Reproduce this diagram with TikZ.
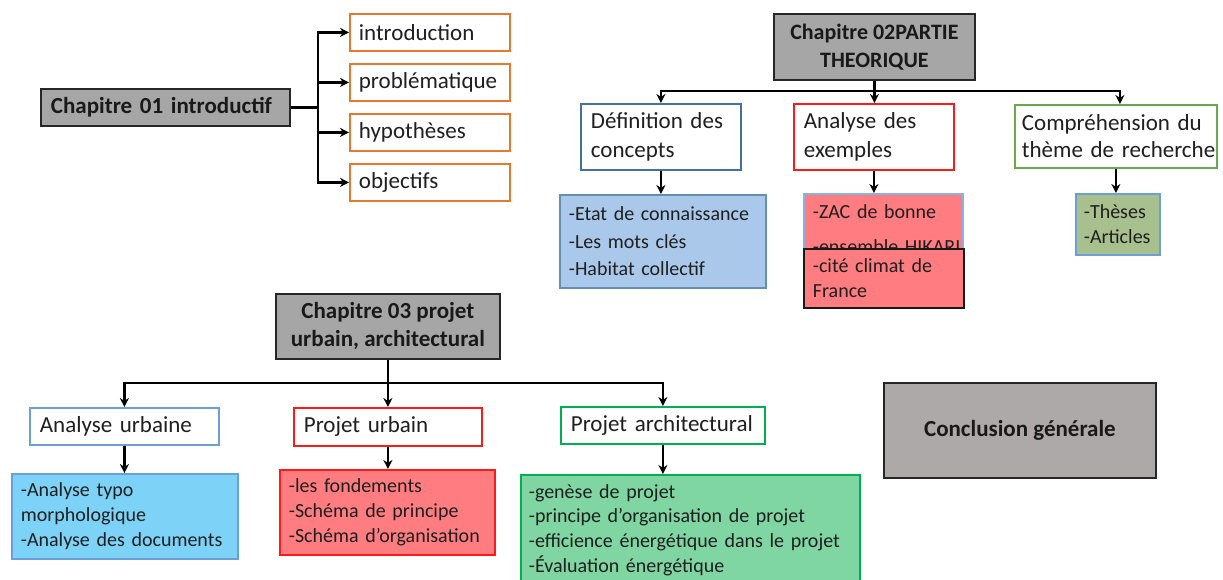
\documentclass[tikz,border=0pt]{standalone}
\usepackage{fontspec}
\setmainfont{Carlito}
\usetikzlibrary{arrows.meta}
\definecolor{grayA}{HTML}{A6A6A6}
\definecolor{grayB}{HTML}{ADA9A9}
\definecolor{orangeC}{HTML}{E8782F}
\definecolor{blueD}{HTML}{41719C}
\definecolor{redC}{HTML}{FF1A1A}
\definecolor{greenC}{HTML}{6AA84F}
\definecolor{blueF}{HTML}{A9C8EA}
\definecolor{blueL}{HTML}{6A9FD8}
\definecolor{redF}{HTML}{FF7C80}
\definecolor{oliveF}{HTML}{A8BF8E}
\definecolor{cyanF}{HTML}{7DD3F7}
\definecolor{greenB}{HTML}{00B050}
\definecolor{greenF}{HTML}{7FD6A2}
\newcommand\fsz[2]{\fontsize{#1}{#2}\selectfont}
\hyphenpenalty=10000
\exhyphenpenalty=10000
\tikzset{
  bx/.style={draw, line width=1.8pt, anchor=north west, inner ysep=0pt, align=left, text=black!88},
  chap/.style={bx, fill=grayA, draw=black!85, align=center, text=black!90},
  conn/.style={line width=2.6pt, black},
  arr/.style={conn, -{Stealth[length=9pt,width=9pt]}},
}
\begin{document}
\begin{tikzpicture}[x=1pt,y=-1pt]
\useasboundingbox[fill=white] (0,0) rectangle (1223,579);

% ---- Chapitre 01 ----
\node[chap, align=left, minimum width=249pt, minimum height=37pt, inner xsep=10pt, text width=229pt, font=\fsz{23}{28}\bfseries] (c1) at (40,88) {Chapitre 01 introductif};
\node[bx, draw=orangeC, minimum width=160pt, minimum height=37pt, inner xsep=9pt, text width=142pt, font=\fsz{23}{28}] (o1) at (349,13) {introduction};
\node[bx, draw=orangeC, minimum width=160pt, minimum height=37pt, inner xsep=9pt, text width=142pt, font=\fsz{23}{28}] (o2) at (349,63) {\mbox{problématique}};
\node[bx, draw=orangeC, minimum width=160pt, minimum height=37pt, inner xsep=9pt, text width=142pt, font=\fsz{23}{28}] (o3) at (349,113) {hypothèses};
\node[bx, draw=orangeC, minimum width=160pt, minimum height=37pt, inner xsep=9pt, text width=142pt, font=\fsz{23}{28}] (o4) at (349,163) {objectifs};
\coordinate (j1) at (c1.east -| 318,0);
\draw[conn] (c1.east) -- (j1);
\draw[arr] (j1) |- (o1.west);
\draw[arr] (j1) |- (o2.west);
\draw[arr] (j1) |- (o3.west);
\draw[arr] (j1) |- (o4.west);

% ---- Chapitre 02 ----
\node[chap, minimum width=201pt, minimum height=66pt, font=\fsz{22}{28}\bfseries] (c2) at (773,13) {Chapitre 02PARTIE\\THEORIQUE};
\node[bx, draw=blueD, minimum width=160pt, minimum height=66pt, inner xsep=10pt, text width=140pt, font=\fsz{23}{29}] (def) at (580,103) {\mbox{Définition des}\\concepts};
\node[bx, draw=redC, minimum width=160pt, minimum height=66pt, inner xsep=10pt, text width=140pt, font=\fsz{23}{29}] (ana) at (793,103) {Analyse des\\exemples};
\node[bx, draw=greenC, minimum width=202pt, minimum height=63pt, inner xsep=7pt, text width=188pt, font=\fsz{23}{27}] (comp) at (1014,104) {\mbox{Compréhension du}\\\mbox{thème de recherche}};
\node[bx, fill=blueF, draw=blueD!80, minimum width=206pt, minimum height=93pt, inner xsep=9pt, text width=188pt, font=\fsz{20}{27.5}] (defc) at (559,194) {-Etat de connaissance\\-Les mots clés\\-Habitat collectif};
\node[bx, fill=redF, draw=blueL!80, minimum width=159pt, minimum height=70pt, inner xsep=9pt, text width=141pt, font=\fsz{20}{35}] (ex1) at (803,193) {-ZAC de bonne\\\mbox{-ensemble HIKARI}};
\node[bx, fill=redF, draw=black!90, minimum width=160pt, minimum height=59pt, inner xsep=9pt, text width=142pt, font=\fsz{20}{25}] (ex2) at (803,248) {-cité climat de\\France};
\node[bx, fill=oliveF, draw=blueL, minimum width=84pt, minimum height=61pt, inner xsep=8pt, text width=68pt, font=\fsz{20}{25}] (th) at (1075,193) {-Thèses\\\mbox{-Articles}};
\coordinate (j2) at (c2.south |- 0,91);
\draw[conn] (c2.south) -- (j2);
\draw[arr] (j2) -| (def.north);
\draw[arr] (j2) -- (j2 |- ana.north);
\draw[arr] (j2) -| ([xshift=4pt]comp.north);
\draw[arr] (def.south) -- (def.south |- defc.north);
\draw[arr] (ana.south) -- (ana.south |- ex1.north);
\draw[arr] (comp.south) -- (comp.south |- th.north);

% ---- Chapitre 03 ----
\node[chap, minimum width=224pt, minimum height=65pt, font=\fsz{23}{28}\bfseries] (c3) at (275,293) {Chapitre 03 projet\\urbain, architectural};
\node[bx, draw=blueL, minimum width=189pt, minimum height=37pt, inner xsep=10pt, text width=169pt, font=\fsz{23}{28}] (au) at (29,407) {Analyse urbaine};
\node[bx, draw=redC, minimum width=188pt, minimum height=38pt, inner xsep=10pt, text width=168pt, font=\fsz{23}{28}] (pu) at (293,407) {Projet urbain};
\node[bx, draw=greenB, minimum width=204pt, minimum height=37pt, inner xsep=10pt, text width=184pt, font=\fsz{23}{28}] (pa) at (560,406) {\mbox{Projet architectural}};
\node[bx, fill=cyanF, draw=blueL, minimum width=226pt, minimum height=85pt, inner xsep=9pt, text width=208pt, font=\fsz{20}{25}] (auc) at (11,473) {-Analyse typo\\morphologique\\\mbox{-Analyse des documents}};
\node[bx, fill=redF, draw=redC, minimum width=215pt, minimum height=85pt, inner xsep=9pt, text width=197pt, font=\fsz{20}{25}] (puc) at (279,469) {-les fondements\\-Schéma de principe\\\mbox{-Schéma d’organisation}};
\node[bx, fill=greenF, draw=greenB, minimum width=339pt, minimum height=110pt, inner xsep=8pt, text width=323pt, font=\fsz{20}{24.6}] (pac) at (520,474) {-genèse de projet\\\mbox{-principe d’organisation de projet}\\\mbox{-efficience énergétique dans le projet}\\-Évaluation énergétique};
\coordinate (j3) at (c3.south |- 0,383);
\draw[conn] (c3.south) -- (j3);
\draw[arr] (j3) -| (au.north);
\draw[arr] (j3) -- (j3 |- pu.north);
\draw[arr] (j3) -| (pa.north);
\draw[arr] (au.south) -- (au.south |- auc.north);
\draw[arr] (pu.south) -- (pu.south |- puc.north);
\draw[arr] (pa.south) -- (pa.south |- pac.north);

% ---- Conclusion ----
\node[chap, fill=grayB, minimum width=272pt, minimum height=95pt, font=\fsz{23}{28}\bfseries] (concl) at (883,382) {Conclusion générale};
\end{tikzpicture}
\end{document}
